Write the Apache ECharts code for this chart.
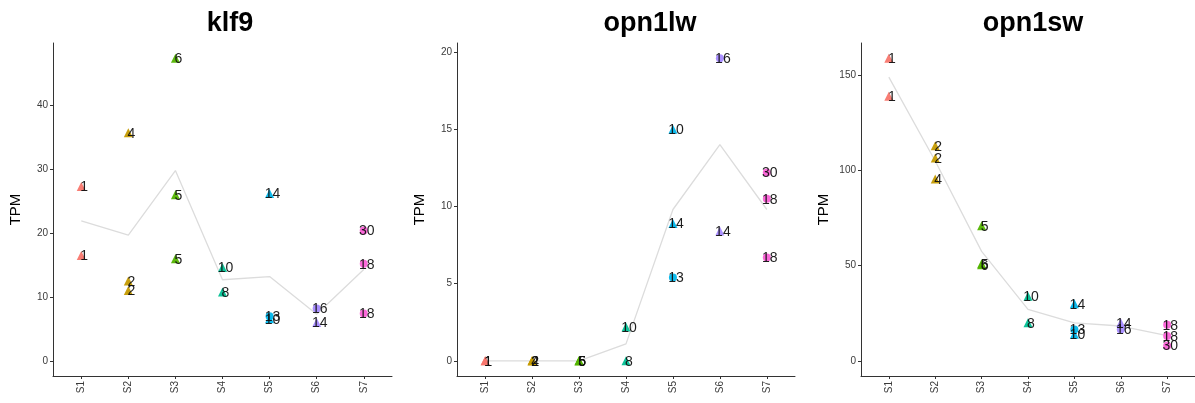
<!DOCTYPE html>
<html>
<head>
<meta charset="utf-8">
<script src="https://cdn.jsdelivr.net/npm/echarts@6/dist/echarts.min.js"></script>
<style>html,body{margin:0;padding:0;background:#fff}#c{width:1195px;height:403px}</style>
</head>
<body>
<div id="c"></div>
<script>
// ---- data ----
const categories = ['S1','S2','S3','S4','S5','S6','S7'];
const genes = ['klf9','opn1lw','opn1sw'];
// sample labels per stage (same order for every gene)
const sampleLabels = [['1','1'],['2','2','4'],['5','5','6'],['10','8'],['10','13','14'],['14','16'],['18','18','30']];
const circleSamples = ['13','16','18','30'];
const klf9Values   = [[27.3,16.5],[12.5,11.0,35.7],[26.0,16.0,47.4],[14.6,10.8],[6.6,7.0,26.2],[6.0,8.2],[15.2,7.4,20.4]];
const opn1lwValues = [[0,0],[0,0,0],[0,0,0],[2.2,0],[15.0,5.4,8.9],[8.4,19.6],[10.5,6.7,12.2]];
const opn1swValues = [[159,139],[113,106.5,95.5],[71,51,50.5],[34,20],[14.0,16.5,30.0],[20.0,16.5],[19.0,13.0,8.0]];
const klf9Mean   = [21.9,19.7,29.8,12.7,13.2,7.3,14.3];
const opn1lwMean = [0,0,0,1.1,9.8,14.0,9.8];
const opn1swMean = [149,105,57.5,27,20,18.3,13.3];
const klf9Ticks   = [0,10,20,30,40];
const opn1lwTicks = [0,5,10,15,20];
const opn1swTicks = [0,50,100,150];

// ---- styling ----
const stageColors = ['#F8766D','#C49A00','#53B400','#00C094','#00B6EB','#A58AFF','#FB61D7'];
const FONT = 'Liberation Sans, Arial, Helvetica, sans-serif';
const valuesList = [klf9Values, opn1lwValues, opn1swValues];
const meansList = [klf9Mean, opn1lwMean, opn1swMean];
const ticksList = [klf9Ticks, opn1lwTicks, opn1swTicks];
const gridLefts = [53, 457, 861];
const gridWidths = [339, 338, 337];
const titleCenters = [230, 650, 1033];

const grids = [], xAxes = [], yAxes = [], series = [], graphics = [];
genes.forEach((g, i) => {
  grids.push({left: gridLefts[i], top: 43, width: gridWidths[i], height: 333});
  const vals = valuesList[i];
  let mx = 0, mn = 0;
  vals.forEach(a => a.forEach(v => { mx = Math.max(mx, v); mn = Math.min(mn, v); }));
  const pad = (mx - mn) * 0.05;
  xAxes.push({
    type: 'value', gridIndex: i, min: 0.4, max: 7.6,
    splitLine: {show: false},
    axisLine: {show: true, onZero: false, lineStyle: {color: '#333', width: 1}},
    axisTick: {show: true, length: 3, lineStyle: {color: '#333'}, customValues: categories.map((c, k) => k + 1)},
    axisLabel: {show: true, rotate: 90, fontSize: 10, color: '#3a3a3a', fontFamily: FONT, margin: 5,
      customValues: categories.map((c, k) => k + 1),
      formatter: v => categories[Math.round(v) - 1] || ''}
  });
  yAxes.push({
    type: 'value', gridIndex: i, min: mn - pad, max: mx + pad,
    name: 'TPM', nameLocation: 'middle', nameGap: 30,
    nameTextStyle: {fontSize: 15, color: '#000', fontFamily: FONT},
    splitLine: {show: false},
    axisLine: {show: true, onZero: false, lineStyle: {color: '#333', width: 1}},
    axisTick: {show: true, length: 3, lineStyle: {color: '#333'}, customValues: ticksList[i]},
    axisLabel: {show: true, fontSize: 10, color: '#3a3a3a', fontFamily: FONT, margin: 5, customValues: ticksList[i]}
  });
  series.push({
    type: 'line', xAxisIndex: i, yAxisIndex: i, symbol: 'none', z: 1,
    lineStyle: {color: '#dcdcdc', width: 1.3},
    data: meansList[i].map((v, k) => [k + 1, v])
  });
  const pts = [];
  vals.forEach((arr, s) => arr.forEach((v, j) => {
    const lab = sampleLabels[s][j];
    const circ = circleSamples.includes(lab);
    pts.push({
      value: [s + 1, v], name: lab,
      symbol: circ ? 'circle' : 'triangle',
      symbolSize: circ ? 8 : 9,
      itemStyle: {color: stageColors[s], opacity: 0.95}
    });
  }));
  series.push({
    type: 'scatter', xAxisIndex: i, yAxisIndex: i, z: 3,
    data: pts,
    label: {show: true, position: 'inside', offset: [3, 1], formatter: p => p.name,
      color: '#111', fontSize: 14, fontFamily: FONT}
  });
  graphics.push({
    type: 'text', x: titleCenters[i], y: 10,
    style: {text: g, textAlign: 'center', textVerticalAlign: 'top', fill: '#000',
      font: 'bold 27px ' + FONT}
  });
});

const chart = echarts.init(document.getElementById('c'), null, {renderer: 'canvas'});
chart.setOption({
  animation: false,
  backgroundColor: '#fff',
  grid: grids, xAxis: xAxes, yAxis: yAxes, series: series,
  graphic: graphics
});
</script>
</body>
</html>
